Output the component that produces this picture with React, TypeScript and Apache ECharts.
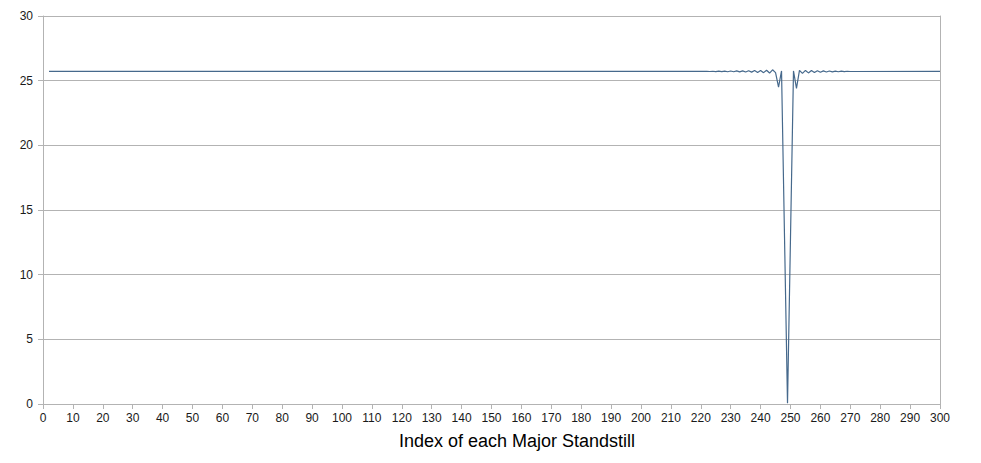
import React, { useEffect, useRef } from "react";
import * as echarts from "echarts";

// Index of each major standstill (x) and the plotted value (y)
const standstillIndex = [
  2, 221, 222, 223, 224, 225, 226, 227, 228, 229, 230, 231, 232, 233, 234, 235,
  236, 237, 238, 239, 240, 241, 242, 243, 244, 245, 246, 247, 248, 249, 250,
  251, 252, 253, 254, 255, 256, 257, 258, 259, 260, 261, 262, 263, 264, 265,
  266, 267, 268, 269, 270, 300,
];
const standstillValue = [
  25.72, 25.72, 25.73, 25.71, 25.73, 25.7, 25.74, 25.7, 25.74, 25.69, 25.75,
  25.69, 25.76, 25.68, 25.76, 25.67, 25.77, 25.66, 25.78, 25.64, 25.79, 25.62,
  25.81, 25.59, 25.84, 25.62, 24.5, 25.75, 12.9, 0.05, 12.9, 25.75, 24.4, 25.8,
  25.56, 25.79, 25.6, 25.78, 25.63, 25.77, 25.65, 25.76, 25.67, 25.75, 25.68,
  25.74, 25.69, 25.74, 25.7, 25.73, 25.71, 25.72,
];

const xTicks = { min: 0, max: 300, interval: 10 };
const yTicks = { min: 0, max: 30, interval: 5 };
const axisTitle = "Index of each Major Standstill";

export default function App() {
  const ref = useRef<HTMLDivElement>(null);

  useEffect(() => {
    if (!ref.current) return;
    const chart = echarts.init(ref.current, undefined, { renderer: "svg" });
    const data = standstillIndex.map((x, i) => [x, standstillValue[i]]);
    const axisGray = "#b3b3b3";
    const font = "'Liberation Sans', Arial, sans-serif";
    chart.setOption({
      animation: false,
      backgroundColor: "#ffffff",
      grid: { left: 43, right: 41, top: 16, bottom: 59 },
      xAxis: {
        type: "value",
        min: xTicks.min,
        max: xTicks.max,
        interval: xTicks.interval,
        axisLine: { show: true, lineStyle: { color: axisGray, width: 1 } },
        axisTick: { show: true, length: 5, lineStyle: { color: axisGray } },
        splitLine: { show: false },
        axisLabel: { color: "#1a1a1a", fontSize: 12, fontFamily: font, margin: 8 },
      },
      yAxis: [
        {
          type: "value",
          min: yTicks.min,
          max: yTicks.max,
          interval: yTicks.interval,
          axisLine: { show: true, lineStyle: { color: axisGray, width: 1 } },
          axisTick: { show: true, length: 5, lineStyle: { color: axisGray } },
          splitLine: { show: true, lineStyle: { color: axisGray, width: 1 } },
          axisLabel: { color: "#1a1a1a", fontSize: 12, fontFamily: font, margin: 10 },
        },
        {
          type: "value",
          position: "right",
          min: yTicks.min,
          max: yTicks.max,
          interval: yTicks.interval,
          axisLine: { show: true, lineStyle: { color: axisGray, width: 1 } },
          axisTick: { show: false },
          splitLine: { show: false },
          axisLabel: { show: false },
        },
      ],
      graphic: [
        {
          type: "text",
          x: 517,
          y: 441,
          style: {
            text: axisTitle,
            fontSize: 18,
            fontFamily: font,
            fill: "#000000",
            textAlign: "center",
            textVerticalAlign: "middle",
          },
        },
      ],
      series: [
        {
          type: "line",
          data,
          yAxisIndex: 0,
          showSymbol: false,
          smooth: false,
          lineStyle: { color: "#46698c", width: 1.2 },
        },
      ],
    });
    return () => chart.dispose();
  }, []);

  return (
    <div
      ref={ref}
      style={{ position: "fixed", left: 0, top: 0, width: 981, height: 463, background: "#fff" }}
    />
  );
}
